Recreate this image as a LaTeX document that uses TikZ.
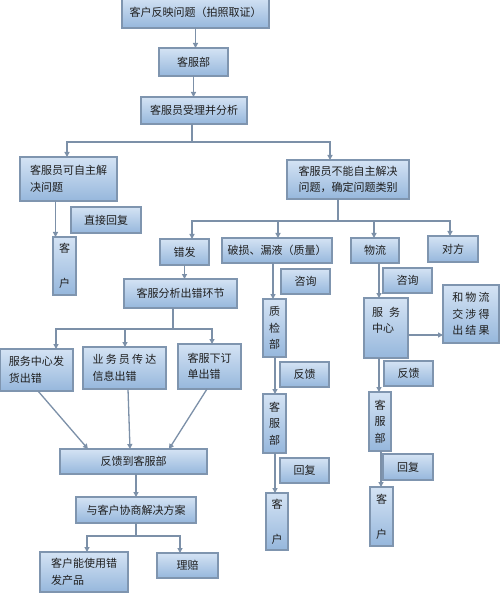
\documentclass[tikz,border=0pt]{standalone}
\usepackage{fontspec}
\setmainfont{Noto Sans CJK SC}
\usetikzlibrary{arrows.meta}
\definecolor{boxtop}{HTML}{D4E3F4}
\definecolor{boxbot}{HTML}{96B7DC}
\definecolor{boxline}{HTML}{7F95AF}
\definecolor{connc}{HTML}{7C90A8}
\definecolor{txt}{HTML}{1E1E1E}
\tikzset{
  bx/.style={draw=boxline,line width=1.3pt,top color=boxtop,bottom color=boxbot,
    inner sep=0pt,outer sep=0pt,text=txt,align=left,
    font=\fontsize{11}{16.5}\selectfont},
  conn/.style={draw=connc,line width=1.3pt},
  arr/.style={conn,-{Triangle[length=5pt,width=5pt]}}
}
\newcommand\bx[7][]{%
  \node[bx,minimum width={(#5-#3)*1pt},minimum height={(#6-#4)*1pt},#1] (#2)
    at ({(#3+#5)/2},{(#4+#6)/2}) {#7};}
\newcommand\lsp{\hspace{2.2pt}}
\begin{document}
\begin{tikzpicture}[x=1pt,y=-1pt]
\useasboundingbox[fill=white] (0,0) rectangle (500,593);
% top chain
\bx{b1}{122}{-3}{269}{28}{客户反映问题（拍照取证）}
\bx{b2}{159}{48}{228}{76}{客服部}
\bx{b3}{141}{97}{247}{124}{客服员受理并分析}
\bx{b4}{20}{157}{117}{201}{客服员可自主解\\决问题}
\bx{b5}{287}{160}{409}{199}{客服员不能自主解决\\问题，确定问题类别}
% left branch
\bx{zjhf}{71}{207}{141}{233}{直接回复}
\bx{kh1}{53}{237}{76}{295}{客\\[18.5pt]户}
% categories
\bx{cf}{160}{239}{209}{265}{错发}
\bx{ps}{222}{238}{332}{263}{破损、漏液（质量）}
\bx{wl}{351}{238}{399}{263}{物流}
\bx{df}{428}{236}{478}{262}{对方}
% wrong shipment branch
\bx{fx}{124}{279}{237}{308}{客服分析出错环节}
\bx{e1}{0}{349}{73}{391}{服务中心发\\货出错}
\bx{e2}{83}{347}{166}{389}{业\lsp 务\lsp 员\lsp 传\lsp 达\\信息出错}
\bx{e3}{178}{344}{241}{389}{客服下订\\单出错}
\bx{fk}{60}{449}{207}{474}{反馈到客服部}
\bx{xs}{76}{497}{196}{523}{与客户协商解决方案}
\bx{kh}{40}{552}{128}{592}{客户能使用错\\发产品}
\bx{lp}{157}{553}{218}{578}{理赔}
% quality branch
\bx{zx1}{281}{269}{330}{294}{咨询}
\bx{zj}{263}{299}{286}{357}{质\\检\\部}
\bx{fk1}{280}{362}{329}{387}{反馈}
\bx{kf1}{263}{394}{286}{453}{客\\服\\部}
\bx{hf1}{280}{458}{329}{483}{回复}
\bx{kh2}{266}{493}{288}{550}{客\\[18.5pt]户}
% logistics branch
\bx{zx2}{383}{268}{432}{293}{咨询}
\bx{fw}{364}{298}{408}{358}{服\hspace{6pt}务\\中心\\\mbox{}}
\bx{jg}{443}{285}{499}{343}{和\lsp 物\lsp 流\\交\lsp 涉\lsp 得\\出\lsp 结\lsp 果}
\bx{fk2}{384}{361}{433}{386}{反馈}
\bx{kf2}{369}{392}{391}{451}{客\\服\\部}
\bx{hf2}{383}{454}{433}{480}{回复}
\bx{kh3}{370}{487}{393}{546}{客\\[18.5pt]户}
% connectors: top
\draw[arr] (b1.south) -- (b1.south |- b2.north);
\draw[arr] (b2.south) -- (b2.south |- b3.north);
\coordinate (j1) at ([xshift=-2pt]b3.south |- 0,142);
\draw[conn] ([xshift=-2pt]b3.south) -- (j1);
\draw[arr] (j1) -| ([xshift=-1.5pt]b4.north);
\draw[arr] (j1) -| ([xshift=-18pt]b5.north);
\draw[arr] ([xshift=-13pt]b4.south) -- ([xshift=-13pt]b4.south |- kh1.north);
% categories
\coordinate (j2) at ([xshift=-10pt]b5.south |- 0,221);
\draw[conn] ([xshift=-10pt]b5.south) -- (j2);
\draw[arr] (j2) -| ([xshift=7.5pt]cf.north);
\draw[arr] (j2) -| ([xshift=1pt]ps.north);
\draw[arr] (j2) -| ([xshift=-1pt]wl.north);
\draw[arr] (j2) -| ([xshift=-3pt]df.north);
% wrong shipment
\draw[arr] (cf.south) -- (cf.south |- fx.north);
\coordinate (j3) at ([xshift=-7.5pt]fx.south |- 0,329);
\draw[conn] ([xshift=-7.5pt]fx.south) -- (j3);
\draw[arr] (j3) -| ([xshift=19.5pt]e1.north);
\draw[arr] (j3) -| ([xshift=0.5pt]e2.north);
\draw[arr] (j3) -| ([xshift=2.5pt]e3.north);
\draw[arr] ([xshift=1.5pt]e1.south) -- ([xshift=28pt]fk.north west);
\draw[arr] ([xshift=3.5pt]e2.south) -- ([xshift=70pt]fk.north west);
\draw[arr] ([xshift=-2.5pt]e3.south) -- ([xshift=109pt]fk.north west);
\draw[arr] (fk.south -| xs.north) -- (xs.north);
\coordinate (j4) at (xs.south |- 0,536);
\draw[conn] (xs.south) -- (j4);
\draw[arr] (j4) -| ([xshift=3pt]kh.north);
\draw[arr] (j4) -| ([xshift=-7.5pt]lp.north);
% quality
\draw[arr] ([xshift=-4pt]ps.south) -- ([xshift=-1.5pt]zj.north);
\draw[arr] ([xshift=0.5pt]zj.south) -- ([xshift=0.5pt]kf1.north);
\draw[arr] ([xshift=0.5pt]kf1.south) -- ([xshift=-2pt]kh2.north);
% logistics
\draw[arr] ([xshift=4pt]wl.south) -- ([xshift=-7pt]fw.north);
\draw[arr] ([yshift=-7pt]fw.east) -- ([yshift=-7pt]fw.east -| jg.west);
\draw[arr] ([xshift=-7pt]fw.south) -- ([xshift=-1pt]kf2.north);
\draw[arr] ([xshift=1pt]kf2.south) -- ([xshift=-0.5pt]kh3.north);
\end{tikzpicture}
\end{document}
